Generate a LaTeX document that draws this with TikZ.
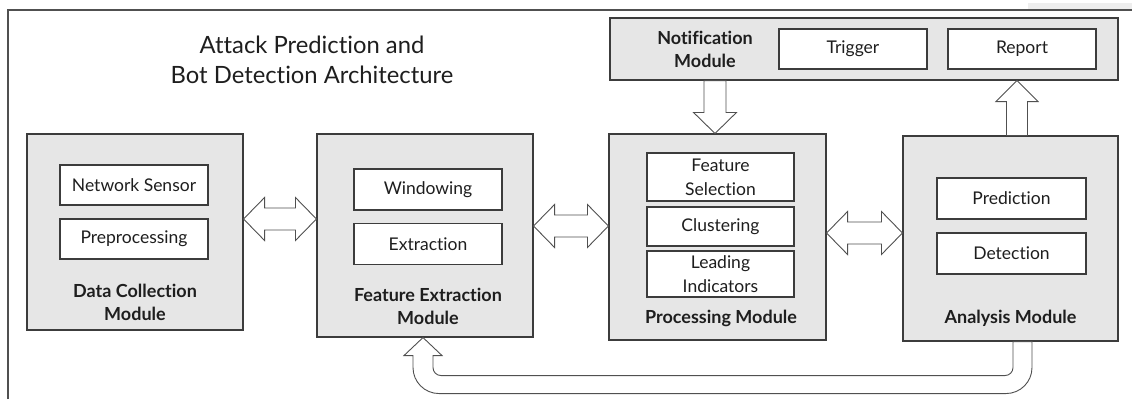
\documentclass[tikz,border=0pt]{standalone}
\usepackage{fontspec}
\setmainfont{Lato}[Ligatures={NoCommon}]
\usetikzlibrary{calc}

\definecolor{boxfill}{HTML}{E6E6E6}
\definecolor{edge}{HTML}{3C3C3C}
\definecolor{arrowedge}{HTML}{505050}
\definecolor{ink}{HTML}{1E1E1E}
\definecolor{framec}{HTML}{505050}
\definecolor{band}{HTML}{EEEEEE}

\tikzset{
  module/.style={draw=edge, fill=boxfill, line width=1.1pt, inner sep=0pt},
  item/.style={draw=edge, fill=white, line width=1.1pt, inner sep=0pt,
    align=center, text=ink, font=\fontsize{17.5}{24}\selectfont},
  modlabel/.style={inner sep=0pt, align=center, text=ink,
    font=\fontsize{18}{23}\selectfont\bfseries},
  blockarrow/.style={draw=arrowedge, fill=white, line width=0.9pt, line join=miter},
}

% horizontal two-headed block arrow between two named points (same height)
\newcommand{\blockdarrow}[2]{%
  \draw[blockarrow] (#1) -- ($(#1)+(21,-21.5)$) -- ($(#1)+(21,-11)$)
    -- ($(#2)+(-21,-11)$) -- ($(#2)+(-21,-21.5)$) -- (#2)
    -- ($(#2)+(-21,21.5)$) -- ($(#2)+(-21,11)$)
    -- ($(#1)+(21,11)$) -- ($(#1)+(21,21.5)$) -- cycle;}

\begin{document}
\begin{tikzpicture}[x=1pt,y=-1pt]
\useasboundingbox (0,0) rectangle (1132,399);

% outer frame
\fill[band] (1028,3) rectangle (1132,9.3);
\draw[framec, line width=1.1pt] (8,399) -- (8,10) -- (1132,10);

% title
\node[inner sep=0pt, align=center, text=ink, font=\fontsize{23.8}{30}\selectfont]
  (title) at (312,59.5) {Attack Prediction and\\Bot Detection Architecture};

% module boxes
\node[module, minimum width=216, minimum height=196] (dc) at (135,232) {};
\node[module, minimum width=216, minimum height=203] (fe) at (425,235.5) {};
\node[module, minimum width=217, minimum height=206] (pm) at (717.5,237) {};
\node[module, minimum width=215, minimum height=205] (am) at (1010.5,238.5) {};
\node[module, minimum width=508, minimum height=62] (nm) at (864,49) {};

% inner blocks
\node[item, minimum width=148, minimum height=40] (ns) at (134,185) {Network Sensor};
\node[item, minimum width=148, minimum height=40] (pp) at (134,239) {Preprocessing};
\node[item, minimum width=148, minimum height=41] (wi) at (428,189.5) {Windowing};
\node[item, minimum width=148, minimum height=41] (ex) at (428,244) {Extraction};
\node[item, minimum width=147, minimum height=48] (fs) at (720.5,177) {Feature\\Selection};
\node[item, minimum width=147, minimum height=39] (cl) at (720.5,226.5) {Clustering};
\node[item, minimum width=147, minimum height=46] (li) at (720.5,274) {Leading\\Indicators};
\node[item, minimum width=149, minimum height=41] (pr) at (1011.5,198.5) {Prediction};
\node[item, minimum width=149, minimum height=41] (de) at (1011.5,253.5) {Detection};
\node[item, minimum width=148, minimum height=40] (tr) at (853,49) {Trigger};
\node[item, minimum width=148, minimum height=40] (rp) at (1022,49) {Report};

% module captions
\node[modlabel] (dcl) at (135,302) {Data Collection\\Module};
\node[modlabel] (fel) at (428,306.5) {Feature Extraction\\Module};
\node[modlabel] (pml) at (721,318) {Processing Module};
\node[modlabel] (aml) at (1010.5,318) {Analysis Module};
\node[modlabel] (nml) at (705,49.5) {Notification\\Module};

% two-headed arrows between neighbouring modules
\coordinate (a1) at ($(dc.east)+(0,-13)$);
\coordinate (b1) at ($(fe.west)+(0,-16.5)$);
\blockdarrow{a1}{b1}
\coordinate (a2) at ($(fe.east)+(0,-9.5)$);
\coordinate (b2) at ($(pm.west)+(0,-11)$);
\blockdarrow{a2}{b2}
\coordinate (a3) at ($(pm.east)+(0,-4)$);
\coordinate (b3) at ($(am.west)+(0,-5.5)$);
\blockdarrow{a3}{b3}

% notification -> processing
\path (pm.north) ++(-2.5,0) coordinate (dtip);
\coordinate (dtop) at (dtip |- nm.south);
\draw[blockarrow] ($(dtop)+(-11,0)$) -- ($(dtop)+(11,0)$) -- ($(dtip)+(11,-21)$)
  -- ($(dtip)+(21.5,-21)$) -- (dtip) -- ($(dtip)+(-21.5,-21)$)
  -- ($(dtip)+(-11,-21)$) -- cycle;

% analysis -> notification
\path (am.north) ++(6.5,0) coordinate (ubot);
\coordinate (utip) at (ubot |- nm.south);
\draw[blockarrow] ($(ubot)+(-10.5,0)$) -- ($(utip)+(-10.5,21)$) -- ($(utip)+(-21,21)$)
  -- (utip) -- ($(utip)+(21,21)$) -- ($(utip)+(10.5,21)$)
  -- ($(ubot)+(10.5,0)$) -- cycle;

% feedback arrow: analysis -> feature extraction
\path (am.south) ++(2.5,0) coordinate (ri);
\path (am.south) ++(21.5,0) coordinate (ro);
\path (fe.south) ++(-2,0) coordinate (ftip);
\path (ftip) ++(10,0) coordinate (li0);
\path (ftip) ++(-10,0) coordinate (lo0);
\path (ftip) ++(0,18) coordinate (hb);
\path (ri) ++(0,34) coordinate (ib);
\path (ri) ++(0,52) coordinate (ob);
\draw[blockarrow] (ri) -- ($(ib)+(0,-8)$) arc[start angle=0, end angle=90, radius=8]
  -- ($(li0 |- ib)+(8,0)$) arc[start angle=90, end angle=180, radius=8]
  -- (li0 |- hb) -- ($(hb)+(19,0)$) -- (ftip) -- ($(hb)+(-19,0)$) -- (lo0 |- hb)
  -- ($(lo0 |- ob)+(0,-26)$) arc[start angle=180, end angle=90, radius=26]
  -- ($(ro |- ob)+(-26,0)$) arc[start angle=90, end angle=0, radius=26]
  -- (ro) -- cycle;
\end{tikzpicture}
\end{document}
